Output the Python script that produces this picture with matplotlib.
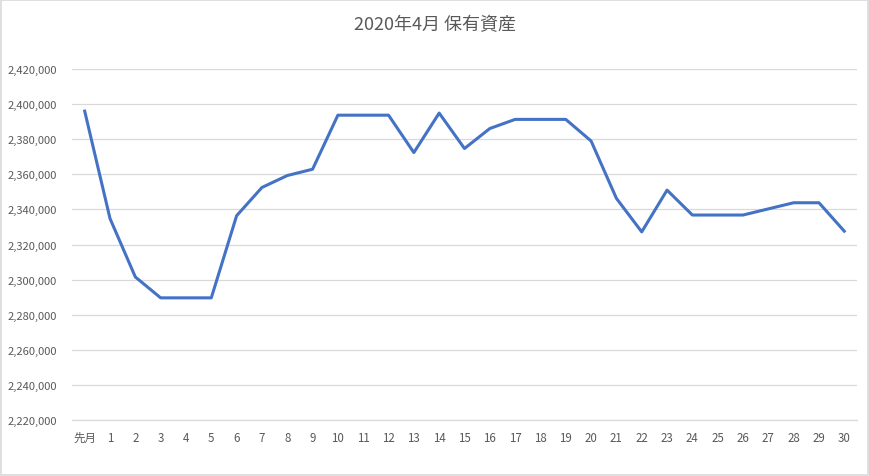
import matplotlib.pyplot as plt
from matplotlib.ticker import FuncFormatter
from matplotlib.patches import Rectangle

plt.rcParams['font.family'] = ['Noto Sans CJK JP', 'DejaVu Sans']

# data
days = ['先月'] + [str(d) for d in range(1, 31)]
assets = [2396000, 2334800, 2301500, 2289600, 2289600, 2289600,
          2336400, 2352500, 2359300, 2362900, 2393700, 2393700,
          2393700, 2372400, 2394900, 2374700, 2386100, 2391300,
          2391300, 2391300, 2379000, 2346300, 2327200, 2351000,
          2336800, 2336800, 2336800, 2340300, 2343800, 2343800,
          2327600]
y_ticks = list(range(2220000, 2420001, 20000))

title = '2020年4月 保有資産'
text_color = '#595959'
grid_color = '#d9d9d9'
line_color = '#4472c4'


def main():
    fig = plt.figure(figsize=(8.7, 4.77), dpi=100)
    ax = fig.add_axes([0.0828, 0.1174, 0.9022, 0.7358])

    x = list(range(len(days)))
    ax.plot(x, assets, color=line_color, linewidth=2.2,
            solid_joinstyle='round', zorder=3)

    ax.set_xlim(-0.5, len(days) - 0.5)
    ax.set_ylim(y_ticks[0], y_ticks[-1])
    ax.set_xticks(x)
    ax.set_xticklabels(days)
    ax.set_yticks(y_ticks)
    ax.yaxis.set_major_formatter(FuncFormatter(lambda v, p: f'{int(v):,}'))

    ax.grid(axis='y', color=grid_color, linewidth=0.9)
    ax.set_axisbelow(True)
    for side in ['top', 'right', 'left']:
        ax.spines[side].set_visible(False)
    ax.spines['bottom'].set_color(grid_color)
    ax.spines['bottom'].set_linewidth(0.9)
    ax.tick_params(axis='both', length=0, colors=text_color)
    ax.tick_params(axis='y', pad=11, labelsize=8)
    ax.tick_params(axis='x', pad=8, labelsize=8.3)

    fig.text(0.5, 0.948, title, ha='center', va='center',
             fontsize=13, color=text_color)

    # chart area border
    fig.patches.append(Rectangle((0.001, 0.002), 0.997, 0.996,
                                 transform=fig.transFigure, fill=False,
                                 edgecolor=grid_color, linewidth=1.2))

    fig.savefig('out.png', dpi=100)


if __name__ == '__main__':
    main()
